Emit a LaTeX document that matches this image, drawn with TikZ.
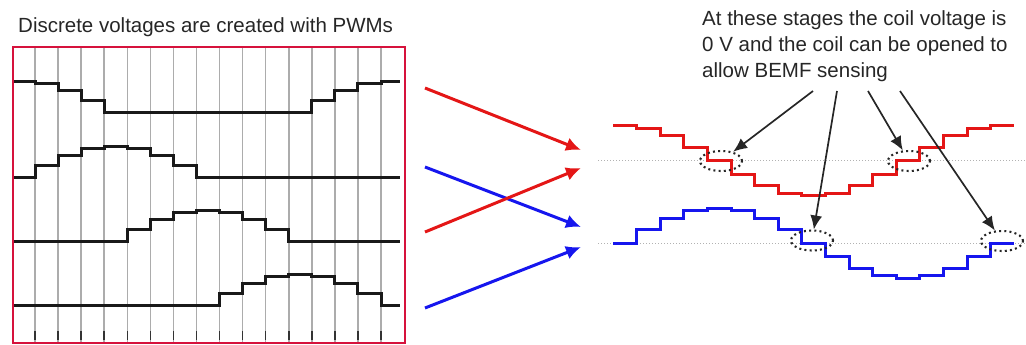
\documentclass[tikz,border=0pt]{standalone}
\usepackage{fontspec}
\setmainfont{Liberation Sans}
\usepackage{tikz}
\usetikzlibrary{positioning, shapes.geometric, arrows.meta}
\definecolor{framered}{RGB}{214,18,60}
\definecolor{wavered}{RGB}{228,22,22}
\definecolor{waveblue}{RGB}{22,22,238}
\tikzstyle{scopebox} = [draw=framered, line width=2.2pt]
\tikzstyle{gridline} = [draw=gray!65, line width=1.5pt]
\tikzstyle{tickmark} = [draw=black!80, line width=1.5pt]
\tikzstyle{phase} = [draw=black!90, line width=3pt]
\tikzstyle{coil} = [line width=3pt]
\tikzstyle{zeroline} = [draw=gray!60, line width=1.1pt, dash pattern=on 1.2pt off 1.8pt]
\tikzstyle{zerospot} = [ellipse, draw=black!85, line width=2.1pt, dash pattern=on 2pt off 3.2pt, minimum width=42pt, minimum height=20pt, inner sep=0pt]
\tikzstyle{bigarrow} = [line width=3pt, -{Latex[length=15pt,width=14pt]}]
\tikzstyle{pointer} = [draw=black!85, line width=1.7pt, -{Latex[length=14pt,width=12pt]}]
\tikzstyle{heading} = [font=\fontsize{20.5}{26}\selectfont, text=black!85, inner sep=0pt]

\begin{document}
\begin{tikzpicture}[x=1pt, y=-1pt]
	\useasboundingbox (0,0) rectangle (1026,345);

	\node (title) [heading, anchor=base west] at (18,33) {Discrete voltages are created with PWMs};
	\node (note) [heading, anchor=north west, align=left] at (702,10.3) {At these stages the coil voltage is\\0 V and the coil can be opened to\\allow BEMF sensing};

	% PWM panel
	\foreach \k in {1,...,16}
	{
		\draw [gridline] ({11.93+23.07*\k},47) -- ({11.93+23.07*\k},343);
		\draw [tickmark] ({11.93+23.07*\k},331) -- ({11.93+23.07*\k},340);
	}
	\foreach \b/\p in {112.5/4, 177/0, 241/-4, 305.5/-8}
		\draw [phase] plot[const plot, samples at={0,...,17}]
			({min(400,max(13.5,11.93+23.07*\x))},{\b-31*max(0,sin((min(\x,16)+\p)*22.5))});
	\draw [scopebox] (13,47) rectangle (405,343);

	% coil voltages
	\draw [zeroline] (598,160.7) -- (1026,160.7);
	\draw [zeroline] (598,243.3) -- (1026,243.3);
	\draw [coil, wavered] plot[const plot, samples at={0,...,17}]
		({613+23.6*\x},{160.7-35*cos(min(\x,16)*22.5)});
	\draw [coil, waveblue] plot[const plot, samples at={0,...,17}]
		({613+23.6*\x},{243.3-35*sin(min(\x,16)*22.5)});

	\node (zr1) [zerospot] at (721,161) {};
	\node (zr2) [zerospot] at (909,161) {};
	\node (zb1) [zerospot] at (812,240.5) {};
	\node (zb2) [zerospot] at (1002,241) {};

	% mapping arrows
	\coordinate (redA) at (425,88);
	\coordinate (redAtip) at (581,150);
	\coordinate (redB) at (425,232);
	\coordinate (redBtip) at (581,168);
	\coordinate (blueA) at (425,167);
	\coordinate (blueAtip) at (581,227);
	\coordinate (blueB) at (425,308);
	\coordinate (blueBtip) at (581,247);
	\draw [bigarrow, wavered] (redA) -- (redAtip);
	\draw [bigarrow, waveblue] (blueA) -- (blueAtip);
	\draw [bigarrow, wavered] (redB) -- (redBtip);
	\draw [bigarrow, waveblue] (blueB) -- (blueBtip);

	% pointers from the note
	\coordinate (tail1) at (813,91);
	\coordinate (tail2) at (837,91);
	\coordinate (tail3) at (868,91);
	\coordinate (tail4) at (900,91);
	\draw [pointer] (tail1) -- (zr1);
	\draw [pointer] (tail2) -- (zb1);
	\draw [pointer] (tail3) -- (zr2);
	\draw [pointer] (tail4) -- (zb2);

\end{tikzpicture}
\end{document}
